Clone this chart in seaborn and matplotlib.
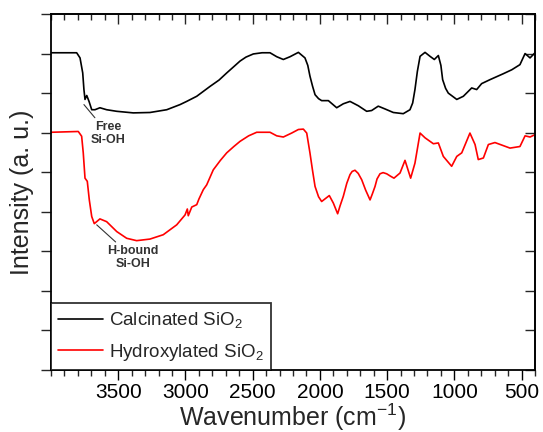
"""
FTIR spectra of calcinated vs hydroxylated SiO2
"""

import matplotlib

matplotlib.use("Agg")
import matplotlib.pyplot as plt
import pandas as pd
import seaborn as sns
from matplotlib.ticker import MultipleLocator

# Calcinated SiO2 (wavenumber in cm-1, intensity in a.u., offset)
calc_wn = [4000, 3809, 3784, 3764, 3755, 3747, 3734, 3717, 3697, 3673, 3636,
           3586, 3511, 3388, 3264, 3139, 3040, 2991, 2916, 2817, 2750, 2693,
           2640, 2594, 2550, 2495, 2430, 2371, 2321, 2272, 2222, 2160, 2111,
           2090, 2074, 2055, 2036, 2010, 1987, 1937, 1875, 1826, 1776, 1714,
           1652, 1615, 1566, 1516, 1454, 1380, 1330, 1310, 1293, 1275, 1255,
           1218, 1181, 1149, 1119, 1100, 1087, 1065, 1045, 982, 933, 871, 834,
           797, 735, 636, 573, 512, 474, 437, 400]
calc_int = [8.02, 8.02, 7.89, 7.51, 7.09, 6.84, 6.94, 6.79, 6.58, 6.58, 6.63,
            6.58, 6.54, 6.50, 6.51, 6.58, 6.71, 6.79, 6.92, 7.17, 7.33, 7.51,
            7.67, 7.81, 7.91, 7.99, 8.02, 8.02, 7.92, 7.85, 7.92, 8.03, 7.89,
            7.70, 7.43, 7.18, 6.96, 6.86, 6.81, 6.81, 6.63, 6.73, 6.79, 6.68,
            6.54, 6.56, 6.67, 6.60, 6.51, 6.48, 6.58, 6.75, 7.09, 7.55, 7.93,
            8.03, 7.93, 7.85, 7.95, 7.70, 7.34, 7.12, 7.00, 6.84, 6.92, 7.13,
            7.09, 7.24, 7.34, 7.49, 7.59, 7.72, 8.00, 7.89, 8.02]

# Hydroxylated SiO2
hydr_wn = [4000, 3797, 3772, 3760, 3747, 3730, 3715, 3697, 3678, 3636, 3586,
           3511, 3437, 3363, 3264, 3165, 3065, 3003, 2986, 2979, 2953, 2916,
           2900, 2867, 2842, 2793, 2740, 2693, 2640, 2594, 2530, 2470, 2371,
           2321, 2272, 2210, 2160, 2123, 2098, 2074, 2055, 2036, 2010, 1987,
           1930, 1900, 1868, 1850, 1826, 1800, 1776, 1760, 1739, 1715, 1689,
           1660, 1627, 1610, 1590, 1575, 1553, 1530, 1503, 1475, 1449, 1404,
           1367, 1325, 1293, 1255, 1218, 1156, 1119, 1082, 1020, 982, 945, 884,
           846, 822, 784, 747, 698, 586, 512, 474, 437, 400]
hydr_int = [6.01, 6.03, 5.91, 5.49, 4.85, 4.77, 4.30, 3.88, 3.70, 3.82, 3.75,
            3.50, 3.33, 3.27, 3.31, 3.42, 3.67, 3.92, 4.07, 3.90, 4.12, 4.18,
            4.32, 4.56, 4.68, 5.06, 5.30, 5.49, 5.65, 5.78, 5.92, 6.01, 6.01,
            5.92, 5.89, 5.99, 6.08, 6.09, 5.99, 5.49, 5.05, 4.64, 4.38, 4.26,
            4.41, 4.22, 3.95, 4.15, 4.39, 4.72, 4.94, 5.02, 5.05, 4.97, 4.81,
            4.55, 4.30, 4.45, 4.64, 4.83, 4.96, 4.99, 4.96, 4.90, 4.85, 4.98,
            5.30, 4.85, 5.23, 5.99, 5.87, 5.72, 5.74, 5.40, 5.15, 5.40, 5.49,
            5.99, 5.70, 5.32, 5.36, 5.70, 5.75, 5.61, 5.65, 5.92, 5.89, 5.95]

series_names = ["Calcinated SiO$_2$", "Hydroxylated SiO$_2$"]
series_colors = ["black", "#ff0000"]
x_ticks = [3500, 3000, 2500, 2000, 1500, 1000, 500]

sns.set_theme(style="ticks")
plt.rcParams["font.family"] = ["Liberation Sans", "DejaVu Sans"]
plt.rcParams["mathtext.fontset"] = "custom"
plt.rcParams["mathtext.rm"] = "Liberation Sans"
plt.rcParams["mathtext.it"] = "Liberation Sans:italic"
plt.rcParams["mathtext.bf"] = "Liberation Sans:bold"

df = pd.concat([
    pd.DataFrame({"wn": calc_wn, "intensity": calc_int, "sample": series_names[0]}),
    pd.DataFrame({"wn": hydr_wn, "intensity": hydr_int, "sample": series_names[1]}),
])

fig = plt.figure(figsize=(5.43, 4.32), dpi=100)
ax = fig.add_axes([0.0939, 0.1435, 0.8914, 0.8241])

sns.lineplot(data=df, x="wn", y="intensity", hue="sample",
             palette=dict(zip(series_names, series_colors)),
             estimator=None, linewidth=1.2, ax=ax)

ax.set_xlim(4000, 400)
ax.set_ylim(0, 9)
ax.set_xticks(x_ticks)
ax.xaxis.set_minor_locator(MultipleLocator(100))
ax.yaxis.set_major_locator(MultipleLocator(1))
ax.set_yticklabels([])
ax.tick_params(axis="x", which="major", length=7, width=1, direction="out",
               labelsize=15, pad=2, colors="black")
ax.tick_params(axis="x", which="minor", length=4, width=1, direction="out")
ax.tick_params(axis="y", which="major", length=7, width=1, direction="out")

# mirror ticks pointing inwards on top and right
top = ax.secondary_xaxis("top")
top.set_xticks(x_ticks)
top.xaxis.set_minor_locator(MultipleLocator(100))
top.tick_params(which="major", direction="in", length=7, width=1, labeltop=False)
top.tick_params(which="minor", direction="in", length=4, width=1)
right = ax.secondary_yaxis("right")
right.yaxis.set_major_locator(MultipleLocator(1))
right.tick_params(direction="in", length=7, width=1, labelright=False)

for spine in ax.spines.values():
    spine.set_visible(True)
    spine.set_linewidth(1.3)
    spine.set_color("black")

ax.set_xlabel("Wavenumber (cm$^{-1}$)", fontsize=18, labelpad=0)
ax.set_ylabel("Intensity (a. u.)", fontsize=18, labelpad=2)

# peak annotations
ax.annotate("Free\nSi-OH", xy=(3755, 6.71), xytext=(3576, 5.98),
            ha="center", va="center", fontsize=9, fontweight="bold",
            color="#333333", linespacing=1.1,
            arrowprops=dict(arrowstyle="-", color="#333333", lw=0.8,
                            shrinkA=0, shrinkB=0))
ax.annotate("H-bound\nSi-OH", xy=(3660, 3.67), xytext=(3390, 2.84),
            ha="center", va="center", fontsize=9, fontweight="bold",
            color="#333333", linespacing=1.1,
            arrowprops=dict(arrowstyle="-", color="#333333", lw=0.8,
                            shrinkA=0, shrinkB=0))

handles, labels = ax.get_legend_handles_labels()
leg = ax.legend(handles, labels, loc="lower left", fontsize=13.5,
                frameon=True, fancybox=False, edgecolor="black",
                borderaxespad=0, borderpad=0.4, handlelength=2.4,
                handletextpad=0.3, labelspacing=0.6)
leg.get_frame().set_linewidth(1.3)
for line in leg.get_lines():
    line.set_linewidth(1.2)

fig.savefig("out.png", dpi=100)
